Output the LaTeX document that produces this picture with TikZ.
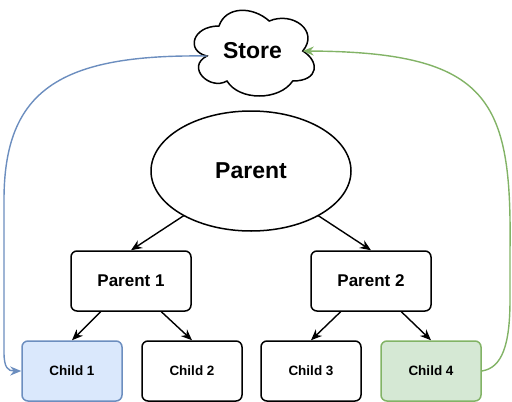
\documentclass[tikz,border=0pt]{standalone}
\usepackage{fontspec}
\setmainfont{Liberation Sans}
\usetikzlibrary{arrows.meta,calc}
\definecolor{bluefill}{HTML}{DAE8FC}
\definecolor{bluedraw}{HTML}{6C8EBF}
\definecolor{greenfill}{HTML}{D5E8D4}
\definecolor{greendraw}{HTML}{82B366}
\tikzset{
  shapeline/.style={line width=1.5pt, draw=black},
  boxnode/.style={shapeline, rounded corners=6pt, fill=white, minimum width=120pt, minimum height=60pt, inner sep=0pt, font=\bfseries\fontsize{17}{20}\selectfont},
  childnode/.style={boxnode, minimum width=100pt, font=\bfseries\fontsize{13.5}{16}\selectfont},
  bigtext/.style={font=\bfseries\fontsize{23}{27}\selectfont, inner sep=0pt},
  edge/.style={line width=1.4pt, -{Stealth[length=11pt,width=9pt,inset=3.5pt]}},
}
\begin{document}
\begin{tikzpicture}[x=1pt,y=-1pt]
\useasboundingbox (0,0) rectangle (512,402);
% cloud
\draw[shapeline, fill=white] (219,26)
  .. controls (192.2,26) and (185.5,51) .. (206.9,56)
  .. controls (185.5,67) and (209.6,91) .. (227,81)
  .. controls (239.1,101) and (279.3,101) .. (292.7,81)
  .. controls (319.5,81) and (319.5,61) .. (302.75,51)
  .. controls (319.5,31) and (292.7,11) .. (269.25,21)
  .. controls (252.5,6) and (225.7,6) .. (219,26) -- cycle;
\node[bigtext] (store) at (252.5,51) {Store};
\coordinate (storeL) at (206.9,56);
\coordinate (storeR) at (302.75,51);
% parent ellipse
\draw[shapeline, fill=white] (251,171) ellipse [x radius=100, y radius=60];
\node[bigtext] (parent) at (251,171) {Parent};
% boxes
\node[boxnode] (p1) at (131,281) {Parent 1};
\node[boxnode] (p2) at (371,281) {Parent 2};
\node[childnode, fill=bluefill, draw=bluedraw] (c1) at (72,371) {Child 1};
\node[childnode] (c2) at (192,371) {Child 2};
\node[childnode] (c3) at (311,371) {Child 3};
\node[childnode, fill=greenfill, draw=greendraw] (c4) at (431,371) {Child 4};
% edges from ellipse
\coordinate (e1) at (184,215.5);
\coordinate (e2) at (318,215.5);
\draw[edge] (e1) -- (p1.north);
\draw[edge] (e2) -- (p2.north);
\draw[edge] ($(p1.south west)!0.25!(p1.south east)$) -- (c1.north);
\draw[edge] ($(p1.south west)!0.75!(p1.south east)$) -- (c2.north);
\draw[edge] ($(p2.south west)!0.25!(p2.south east)$) -- (c3.north);
\draw[edge] ($(p2.south west)!0.75!(p2.south east)$) -- (c4.north);
% curved connectors
\draw[edge, draw=bluedraw, -{Stealth[length=11pt,width=9pt,inset=3.5pt,fill=bluedraw]}] (storeL)
  .. controls (60,54) and (4,90) .. (4,200) -- (4,352)
  .. controls (4,368) and (8,371) .. (c1.west);
\draw[edge, draw=greendraw, -{Stealth[length=11pt,width=9pt,inset=3.5pt,fill=greendraw]}] (c4.east)
  .. controls (502,368) and (510,345) .. (510,300) -- (510,250)
  .. controls (512,100) and (490,52) .. (storeR);
\end{tikzpicture}
\end{document}
